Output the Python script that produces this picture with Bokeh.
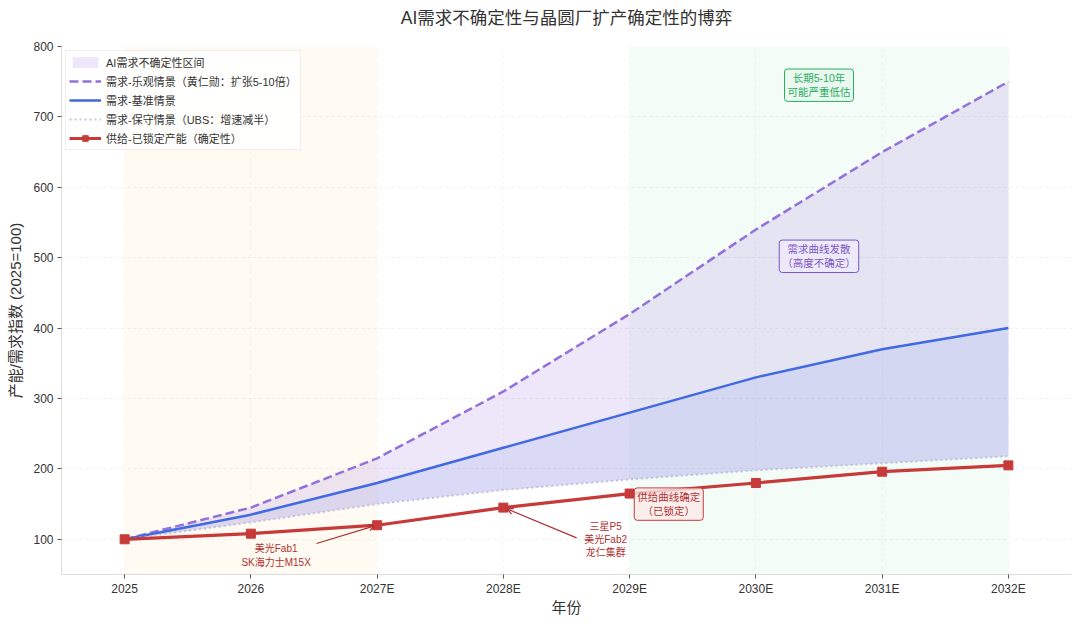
from bokeh.plotting import figure
from bokeh.models import (BoxAnnotation, Label, Arrow, OpenHead, Range1d,
                          FixedTicker, ColumnDataSource, Title)
from bokeh.embed import file_html
from bokeh.resources import INLINE

# ---- data ----
years = ["2025", "2026", "2027E", "2028E", "2029E", "2030E", "2031E", "2032E"]
demand_optimistic = [100, 145, 215, 310, 420, 540, 650, 750]
demand_base = [100, 135, 180, 230, 280, 330, 370, 400]
demand_conservative = [100, 124, 150, 170, 185, 198, 208, 218]
supply_locked = [100, 108, 120, 145, 165, 180, 196, 205]
title_text = "AI需求不确定性与晶圆厂扩产确定性的博弈"

FONT = "Liberation Sans, Noto Sans CJK SC"
TXT = "#333333"

x = list(range(len(years)))
src = ColumnDataSource(dict(x=x, opt=demand_optimistic, base=demand_base,
                            cons=demand_conservative, sup=supply_locked))

p = figure(width=1076, height=620, output_backend="svg", toolbar_location=None,
           title=None,
           x_range=Range1d(-0.5, 7.5), y_range=Range1d(50, 800),
           min_border_left=61, min_border_right=5, min_border_top=46,
           min_border_bottom=46)

# spacer between frame and title, then the title itself
p.add_layout(Title(text=" ", text_font_size="1px", standoff=14), "above")
p.add_layout(Title(text=title_text, align="center", text_font=FONT,
                   text_font_size="17.5px", text_font_style="normal",
                   text_color=TXT, standoff=4), "above")

# background spans
p.add_layout(BoxAnnotation(left=0, right=2, fill_color="#FFA500", fill_alpha=0.05,
                           line_color=None, level="underlay"))
p.add_layout(BoxAnnotation(left=4, right=7, fill_color="#2ECC71", fill_alpha=0.05,
                           line_color=None, level="underlay"))

# uncertainty band
p.varea(x="x", y1="cons", y2="opt", source=src, fill_color="#9370DB",
        fill_alpha=0.17, legend_label="AI需求不确定性区间")
p.varea(x="x", y1="cons", y2="base", source=src, fill_color="#4169E1",
        fill_alpha=0.10)

p.line(x="x", y="opt", source=src, line_color="#9370DB", line_width=2.5,
       line_dash="9 4", legend_label="需求-乐观情景（黄仁勋：扩张5-10倍）")
p.line(x="x", y="base", source=src, line_color="#4169E1", line_width=2.5,
       legend_label="需求-基准情景")
p.line(x="x", y="cons", source=src, line_color="#B4B4CC", line_width=2,
       line_dash="2 3", line_alpha=0.75, legend_label="需求-保守情景（UBS：增速减半）")
p.line(x="x", y="sup", source=src, line_color="#C73A3A", line_width=3.2,
       legend_label="供给-已锁定产能（确定性）")
p.scatter(x="x", y="sup", source=src, marker="square", size=9,
          fill_color="#C73A3A", line_color="#C73A3A",
          legend_label="供给-已锁定产能（确定性）")

# annotations
RED = "#B03030"
p.add_layout(Arrow(end=OpenHead(size=6, line_color=RED, line_width=1.2),
                   x_start=1.52, y_start=94, x_end=1.98, y_end=119,
                   line_color=RED, line_width=1.2))
p.add_layout(Label(x=1.2, y=77, text="美光Fab1\nSK海力士M15X", text_align="center",
                   text_baseline="middle", text_font=FONT, text_font_size="10px",
                   text_color=RED))
p.add_layout(Arrow(end=OpenHead(size=6, line_color=RED, line_width=1.2),
                   x_start=3.58, y_start=102, x_end=3.03, y_end=143,
                   line_color=RED, line_width=1.2))
p.add_layout(Label(x=3.81, y=100, text="三星P5\n美光Fab2\n龙仁集群", text_align="center",
                   text_baseline="middle", text_font=FONT, text_font_size="10px",
                   text_color=RED))
p.add_layout(Label(x=4.31, y=150, text="供给曲线确定\n（已锁定）", text_align="center",
                   text_baseline="middle", text_font=FONT, text_font_size="10.5px",
                   text_color=RED, background_fill_color="#FBEAEA",
                   background_fill_alpha=0.8, border_line_color="#C73A3A",
                   border_line_width=1, padding=3, border_radius=3))
p.add_layout(Label(x=5.5, y=745, text="长期5-10年\n可能严重低估", text_align="center",
                   text_baseline="middle", text_font=FONT, text_font_size="10.5px",
                   text_color="#27AE60", background_fill_color="#E8F6EE",
                   background_fill_alpha=0.8, border_line_color="#27AE60",
                   border_line_width=1, padding=3, border_radius=3))
p.add_layout(Label(x=5.5, y=502, text="需求曲线发散\n（高度不确定）", text_align="center",
                   text_baseline="middle", text_font=FONT, text_font_size="10.5px",
                   text_color="#7E57C2", background_fill_color="#EFEAFB",
                   background_fill_alpha=0.8, border_line_color="#7E57C2",
                   border_line_width=1, padding=3, border_radius=3))

# axes
p.xaxis.ticker = FixedTicker(ticks=x)
p.xaxis.major_label_overrides = {i: y for i, y in enumerate(years)}
p.yaxis.ticker = FixedTicker(ticks=[100, 200, 300, 400, 500, 600, 700, 800])
p.xaxis.axis_label = "年份"
p.yaxis.axis_label = "产能/需求指数 (2025=100)"
for ax in (p.xaxis, p.yaxis):
    ax.axis_label_text_font = FONT
    ax.axis_label_text_font_size = "15px"
    ax.axis_label_text_font_style = "normal"
    ax.axis_label_text_color = TXT
    ax.major_label_text_font = FONT
    ax.major_label_text_font_size = "12px"
    ax.major_label_text_color = TXT
    ax.axis_line_color = "#DDDDDD"
    ax.major_tick_line_color = "#555555"
    ax.major_tick_in = 0
    ax.major_tick_out = 4
    ax.minor_tick_line_color = None
    ax.major_label_standoff = 4
p.yaxis.axis_label_standoff = 6
p.xaxis.axis_label_standoff = 0
p.xaxis.major_label_standoff = 3

p.outline_line_color = None
p.xgrid.grid_line_color = "#DDDDDD"
p.xgrid.grid_line_alpha = 0.25
p.xgrid.grid_line_dash = "3 3"
p.ygrid.grid_line_color = "#DDDDDD"
p.ygrid.grid_line_alpha = 0.45
p.ygrid.grid_line_dash = "3 3"

lg = p.legend[0]
lg.location = "top_left"
lg.label_text_font = FONT
lg.label_text_font_size = "11px"
lg.label_text_color = TXT
lg.label_height = 14
lg.glyph_height = 14
lg.glyph_width = 32
lg.spacing = 3
lg.padding = 3
lg.margin = 4
lg.border_line_color = "#DDDDDD"
lg.background_fill_alpha = 0.85

open("out.html", "w").write(file_html(p, INLINE))
